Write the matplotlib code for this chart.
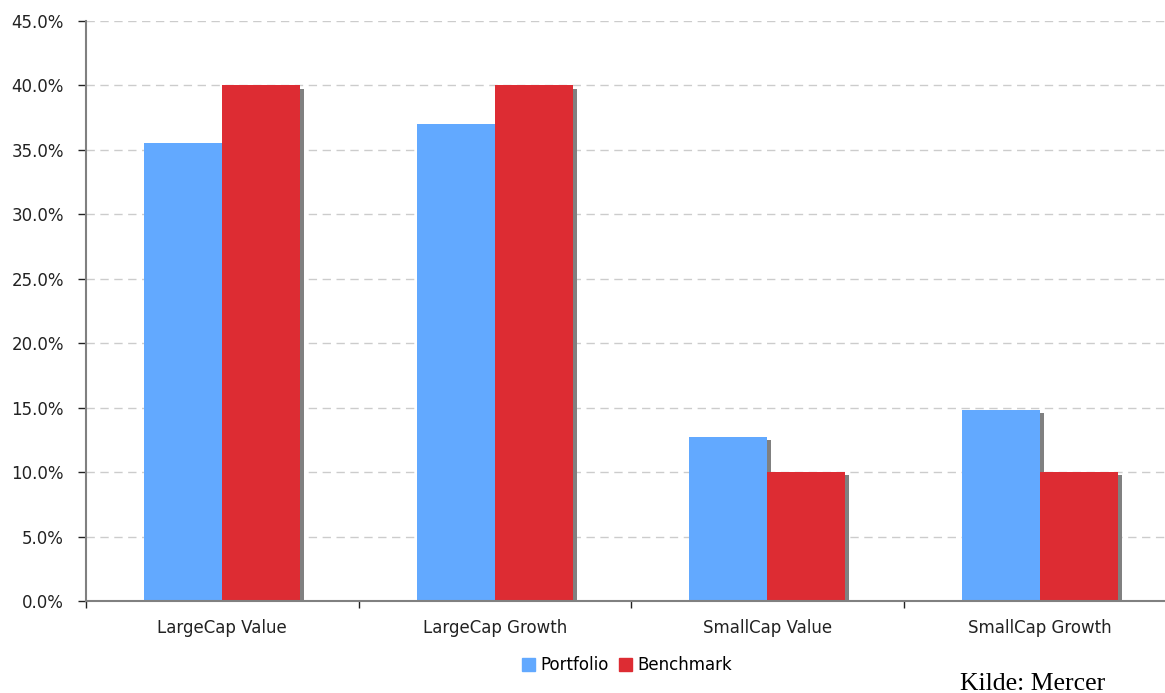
import matplotlib
matplotlib.use("Agg")
import matplotlib.pyplot as plt
import matplotlib.patheffects as pe
from matplotlib.patches import Patch
import numpy as np
from matplotlib.ticker import FuncFormatter

plt.rcParams["font.family"] = ["DejaVu Sans"]

categories = ["LargeCap Value", "LargeCap Growth", "SmallCap Value", "SmallCap Growth"]
portfolio = [35.5, 37.0, 12.7, 14.8]
benchmark = [40.0, 40.0, 10.0, 10.0]
series_names = ["Portfolio", "Benchmark"]
yticks = [0, 5, 10, 15, 20, 25, 30, 35, 40, 45]

blue = "#62a9ff"
red = "#dd2c33"

fig = plt.figure(figsize=(11.65, 6.93), dpi=100)
ax = fig.add_axes([86 / 1165, 1 - 601 / 693, 1 - 86 / 1165, 580 / 693])

x = np.arange(len(categories))
w = 0.286
# grey drop shadow down-right of every bar
shadow = [pe.SimplePatchShadow(offset=(3, -2.2), shadow_rgbFace="#808080", alpha=1.0), pe.Normal()]

ax.bar(x - w / 2, portfolio, w, color=blue, zorder=3, path_effects=shadow)
ax.bar(x + w / 2, benchmark, w, color=red, zorder=4, path_effects=shadow)

ax.set_ylim(0, 45)
ax.set_xlim(-0.5, 3.5 - 11 / 272.5)
ax.set_yticks(yticks)
ax.yaxis.set_major_formatter(FuncFormatter(lambda v, p: f"{v:.1f}%"))
ax.grid(axis="y", color="#cccccc", linestyle=(0, (6, 4)), linewidth=1, zorder=0)

ax.set_xticks(x)
ax.set_xticklabels(categories)
ax.set_xticks([-0.5, 0.5, 1.5, 2.5], minor=True)  # ticks between the groups
ax.tick_params(axis="x", which="major", length=0, pad=13, labelsize=12, labelcolor="#222222")
ax.tick_params(axis="x", which="minor", length=5, width=1, color="#222222")
ax.tick_params(axis="y", length=6, width=1, color="#222222", labelsize=12, labelcolor="#222222", pad=10)

for s in ["top", "right"]:
    ax.spines[s].set_visible(False)
ax.spines["left"].set_color("#808080")
ax.spines["bottom"].set_color("#808080")
ax.spines["left"].set_linewidth(1.5)
ax.spines["bottom"].set_linewidth(1.5)
ax.spines["bottom"].set_zorder(5)

handles = [Patch(color=blue), Patch(color=red)]
fig.legend(handles, series_names, loc="center", bbox_to_anchor=(627 / 1165, 1 - 665 / 693), ncol=2,
           frameon=False, fontsize=12, handlelength=0.8, handleheight=0.8, handletextpad=0.3,
           columnspacing=0.6)

fig.text(1033 / 1165, 1 - 684 / 693, "Kilde: Mercer", ha="center", va="center",
         family="Liberation Serif", fontsize=18.5)

fig.savefig("out.png", dpi=100)
